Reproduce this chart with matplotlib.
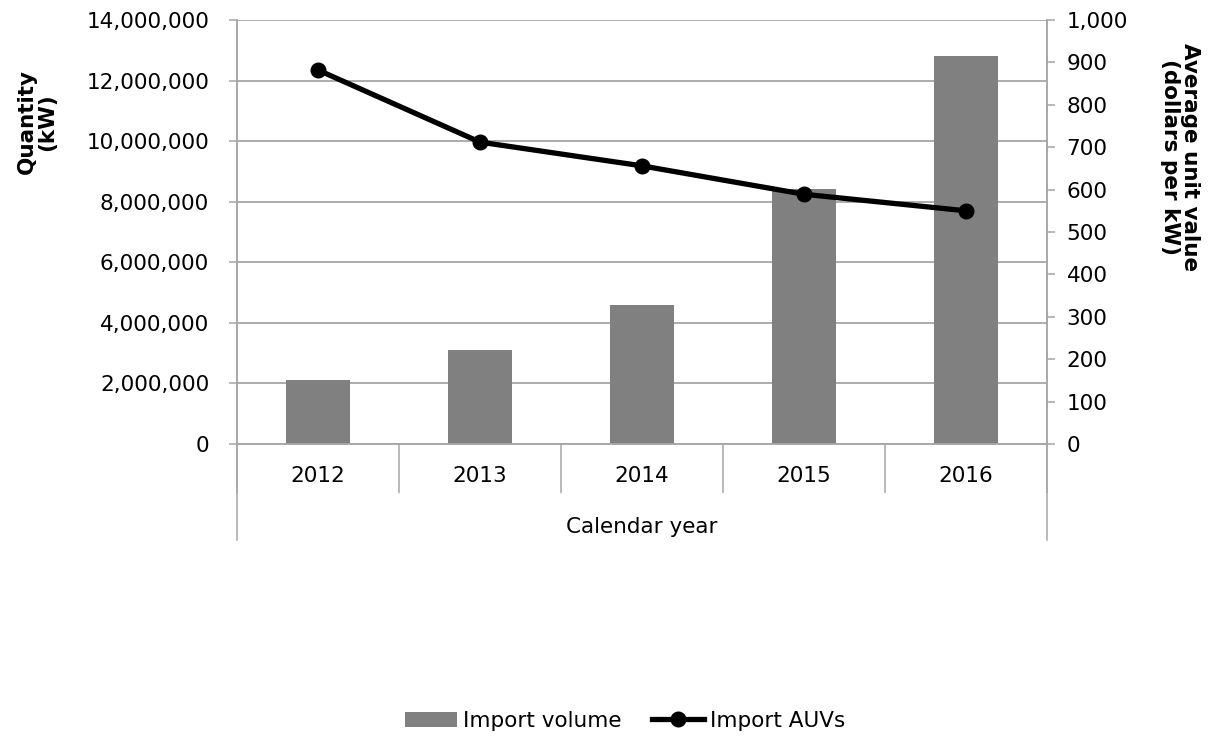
import matplotlib
matplotlib.use("Agg")
import matplotlib.pyplot as plt
from matplotlib.ticker import FuncFormatter, MultipleLocator
from matplotlib.lines import Line2D

plt.rcParams['font.family'] = ['DejaVu Sans']

years = ["2012", "2013", "2014", "2015", "2016"]
import_volume = [2120000, 3090000, 4580000, 8420000, 12820000]
import_auvs = [882, 712, 656, 589, 550]

fig = plt.figure(figsize=(12.21, 7.38), dpi=100)
ax = fig.add_axes([237/1221, 1-444/738, (1047-237)/1221, (444-20)/738])
ax2 = ax.twinx()

x = list(range(len(years)))
grid_c = '#a6a6a6'
fs = 15.5

ax.bar(x, import_volume, width=0.4, color='#808080', zorder=2, label='Import volume')
ax2.plot(x, import_auvs, color='black', lw=3.8, marker='o', markersize=10.5, zorder=3, label='Import AUVs')

ax.set_xlim(-0.5, len(years) - 0.5)
ax.set_ylim(0, 14000000)
ax2.set_ylim(0, 1000)
ax.yaxis.set_major_locator(MultipleLocator(2000000))
ax2.yaxis.set_major_locator(MultipleLocator(100))
ax.yaxis.set_major_formatter(FuncFormatter(lambda v, p: f"{int(v):,}"))
ax2.yaxis.set_major_formatter(FuncFormatter(lambda v, p: f"{int(v):,}"))

ax.grid(axis='y', color=grid_c, lw=1.3, zorder=0)
ax.set_axisbelow(True)

ax.set_xticks(x)
ax.set_xticklabels(years)
ax.set_xticks([i - 0.5 for i in range(len(years) + 1)], minor=True)
ax.tick_params(axis='x', which='major', length=0, labelsize=fs, pad=16)
ax.tick_params(axis='x', which='minor', length=35, color=grid_c, width=1.1, direction='out')
ax.tick_params(axis='y', length=6, color=grid_c, width=1.1, labelsize=fs, pad=14)
ax2.tick_params(axis='y', length=6, color=grid_c, width=1.1, labelsize=fs, pad=8)

for a in (ax, ax2):
    for s in a.spines.values():
        s.set_color(grid_c)
        s.set_linewidth(1.1)
    a.spines['top'].set_visible(False)

# extended side lines of category area
ext = (444 - 540) / 424
for xx in (0, 1):
    ax.add_line(Line2D([xx, xx], [0, ext], transform=ax.transAxes, color=grid_c,
                       lw=1.1, clip_on=False))

ax.set_xlabel("Calendar year", fontsize=fs, labelpad=0, va='center')
ax.xaxis.set_label_coords(0.5, (444 - 527) / 424)

ax.set_ylabel("Quantity\n(kW)", fontsize=fs, fontweight='bold', linespacing=1.0, va='center')
ax.yaxis.set_label_coords((37 - 237) / 810, (444 - 122) / 424)

ax2.set_ylabel("Average unit value\n(dollars per kW)", fontsize=fs, fontweight='bold',
               rotation=-90, linespacing=1.0, va='center')
ax2.yaxis.set_label_coords((1180 - 237) / 810, (444 - 157) / 424)

h1, l1 = ax.get_legend_handles_labels()
h2, l2 = ax2.get_legend_handles_labels()
fig.legend(h1 + h2, l1 + l2, loc='center', bbox_to_anchor=(0.512, 1 - 721/738), ncol=2,
           frameon=False, fontsize=fs, handlelength=2.4, handletextpad=0.3,
           columnspacing=1.4)

fig.savefig("out.png", dpi=100)
